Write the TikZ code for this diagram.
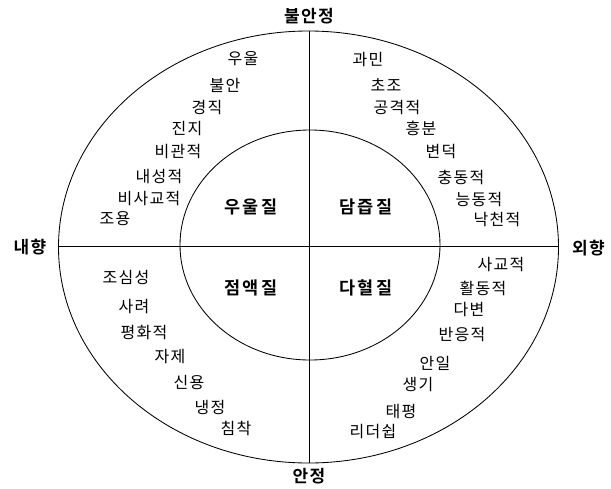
\documentclass[tikz,border=0pt]{standalone}
\usepackage{fontspec}
\newfontfamily\kr[LetterSpace=8]{Noto Sans CJK KR}
\newfontfamily\krb[LetterSpace=12]{Noto Sans CJK KR Bold}
\newfontfamily\krax[LetterSpace=8]{Noto Sans CJK KR Bold}
\begin{document}
\begin{tikzpicture}[x=1pt,y=-1pt,
  word/.style={font=\kr\fontsize{16}{18}\selectfont, inner sep=0pt},
  temper/.style={font=\krb\fontsize{17.5}{19}\selectfont, inner sep=0pt},
  axis/.style={font=\krax\fontsize{17}{19}\selectfont, inner sep=0pt},
  ring/.style={line width=0.85pt}]
\useasboundingbox (0,0) rectangle (611,488);
% outer and inner ellipses
\coordinate (c) at (308.5,247);
\coordinate (ci) at (310,245);
\draw[ring] (c) ellipse [x radius=250, y radius=216];
\draw[ring] (ci) ellipse [x radius=130, y radius=115];
\coordinate (top) at (309,31);
\coordinate (bot) at (309,463);
\coordinate (lft) at (58.5,246);
\coordinate (rgt) at (558.5,246);
\draw[ring] (top) -- (bot);
\draw[ring] (lft) -- (rgt);
% axis labels
\node[axis] (n1) at (309,16) {불안정};
\node[axis] (n2) at (309,476) {안정};
\node[axis] (n3) at (30,247) {내향};
\node[axis,anchor=west] (n4) at (572,248) {외향};
% temperaments
\node[temper] (t1) at (251,207) {우울질};
\node[temper] (t2) at (366,207) {담즙질};
\node[temper] (t3) at (251,288) {점액질};
\node[temper] (t4) at (366,288) {다혈질};
% upper left
\node[word] (a1) at (243,59) {우울};
\node[word] (a2) at (225,85) {불안};
\node[word] (a3) at (207,108) {경직};
\node[word] (a4) at (187,129) {진지};
\node[word] (a5) at (178,152) {비관적};
\node[word] (a6) at (159,177) {내성적};
\node[word] (a7) at (149,199) {비사교적};
\node[word] (a8) at (115,219) {조용};
% upper right
\node[word] (b1) at (368,60) {과민};
\node[word] (b2) at (386,85) {초조};
\node[word] (b3) at (397,108) {공격적};
\node[word] (b4) at (421,128) {흥분};
\node[word] (b5) at (441,152) {변덕};
\node[word] (b6) at (461,177) {충동적};
\node[word] (b7) at (479,200) {능동적};
\node[word] (b8) at (497,220) {낙천적};
% lower left
\node[word] (c1) at (126,277) {조심성};
\node[word] (c2) at (134,307) {사려};
\node[word] (c3) at (144,333) {평화적};
\node[word] (c4) at (170,357) {자제};
\node[word] (c5) at (189,382) {신용};
\node[word] (c6) at (210,407) {냉정};
\node[word] (c7) at (236,428) {침착};
% lower right
\node[word] (d1) at (501,265) {사교적};
\node[word] (d2) at (483,288) {활동적};
\node[word] (d3) at (469,310) {다변};
\node[word] (d4) at (462,335) {반응적};
\node[word] (d5) at (435,363) {안일};
\node[word] (d6) at (418,385) {생기};
\node[word] (d7) at (401,412) {태평};
\node[word] (d8) at (373,432) {리더쉽};
\end{tikzpicture}
\end{document}
